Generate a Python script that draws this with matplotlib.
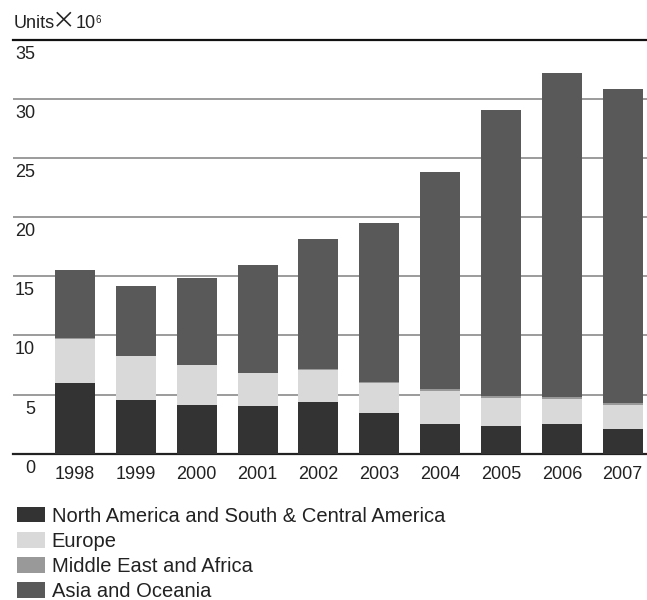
import matplotlib
matplotlib.use("Agg")
import matplotlib.pyplot as plt
import numpy as np

years = ["1998", "1999", "2000", "2001", "2002", "2003", "2004", "2005", "2006", "2007"]
north_america = [5.98, 4.54, 4.12, 4.03, 4.37, 3.44, 2.51, 2.34, 2.51, 2.09]
europe = [3.72, 3.72, 3.38, 2.79, 2.71, 2.54, 2.79, 2.39, 2.11, 2.03]
middle_east = [0.04, 0.04, 0.04, 0.04, 0.04, 0.04, 0.14, 0.17, 0.20, 0.19]
asia = [5.77, 5.87, 7.31, 9.09, 11.00, 13.48, 18.37, 24.15, 27.36, 26.52]
series_names = ["North America and South & Central America", "Europe",
                "Middle East and Africa", "Asia and Oceania"]
y_ticks = [0, 5, 10, 15, 20, 25, 30, 35]

colors = ["#333333", "#d9d9d9", "#999999", "#595959"]

plt.rcParams['font.family'] = ['Liberation Sans', 'DejaVu Sans']
FS = 13
LFS = 14.5

W, H = 647, 600
fig = plt.figure(figsize=(W / 100, H / 100), dpi=100)
ax = fig.add_axes([13 / W, 1 - 453.7 / H, (647 - 13) / W, (453.7 - 39.7) / H])

x = np.arange(len(years))
bottom = np.zeros(len(years))
handles = []
for vals, c, name in zip([north_america, europe, middle_east, asia], colors, series_names):
    b = ax.bar(x, vals, width=0.657, bottom=bottom, color=c, label=name, zorder=3)
    handles.append(b)
    bottom += np.array(vals)

ax.set_xlim(-1.02, 9.40)
ax.set_ylim(0, 35)
ax.set_yticks(y_ticks)
ax.yaxis.grid(True, color="#8a8a8a", linewidth=1.2, zorder=0)
ax.set_axisbelow(True)
ax.tick_params(axis='y', length=0, labelleft=False)
ax.set_xticks(x)
ax.set_xticklabels(years, fontsize=FS, color="#222222")
ax.tick_params(axis='x', length=0, pad=8.5)

for s in ["left", "right"]:
    ax.spines[s].set_visible(False)
ax.spines["top"].set_color("#111111")
ax.spines["top"].set_linewidth(1.6)
ax.spines["bottom"].set_color("#222222")
ax.spines["bottom"].set_linewidth(1.6)

for v in y_ticks:
    ax.annotate(str(v), xy=(0, v), xycoords=('axes fraction', 'data'),
                xytext=(22, -19), textcoords='offset pixels',
                ha='right', va='baseline', fontsize=FS, color="#222222")

# Units label
fig.text(14 / W, 1 - 28.3 / H, "Units", fontsize=FS, color="#222222", va='baseline', ha='left')
fig.text(52 / W, 1 - 28.3 / H, "\u00d7", fontsize=FS + 4, color="#222222", va='baseline', ha='left',
         family=['Noto Sans CJK JP', 'DejaVu Sans'])
fig.text(75.5 / W, 1 - 28.3 / H, "10", fontsize=FS, color="#222222", va='baseline', ha='left')
fig.text(96 / W, 1 - 23 / H, "6", fontsize=7, color="#222222", va='baseline', ha='left')

leg = fig.legend(handles=handles, labels=series_names, loc='upper left',
                 bbox_to_anchor=(17 / W, 1 - 506.5 / H), bbox_transform=fig.transFigure,
                 frameon=False, fontsize=LFS, handlelength=1.39, handleheight=0.83,
                 handletextpad=0.33, labelspacing=0.31, borderpad=0, borderaxespad=0)
for t in leg.get_texts():
    t.set_color("#222222")

fig.savefig("out.png", dpi=100)
